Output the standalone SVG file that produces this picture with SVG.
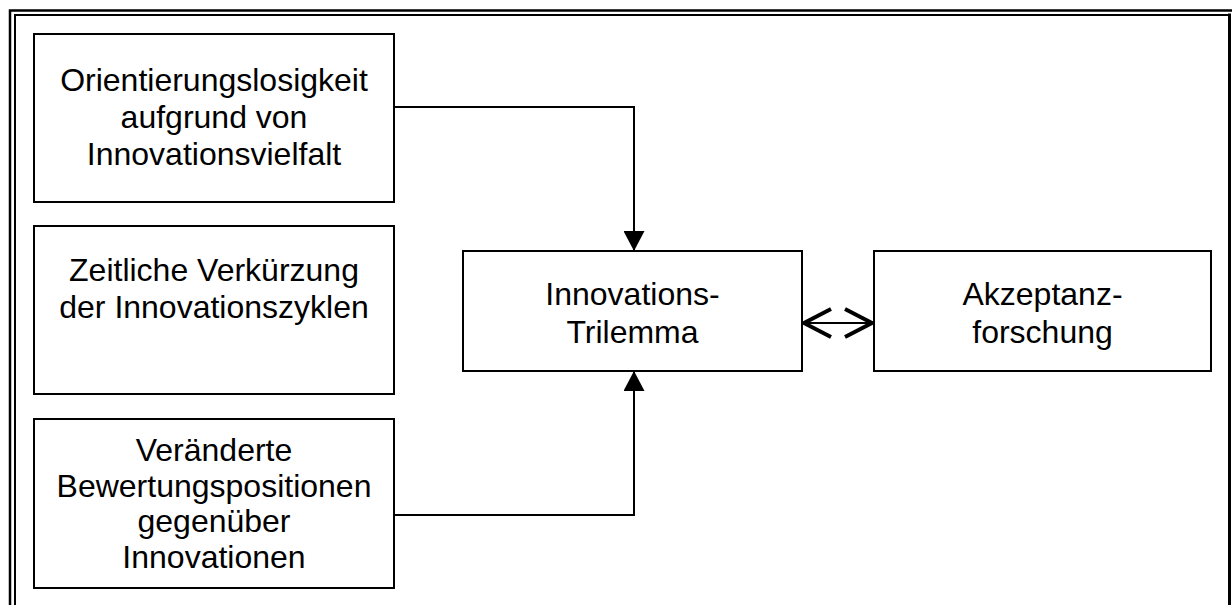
<svg xmlns="http://www.w3.org/2000/svg" width="1232" height="605" viewBox="0 0 1232 605">
  <defs>
    <style>
      .box { fill: #ffffff; stroke: #000000; stroke-width: 2; }
      .lbl { font-family: "Liberation Sans", Arial, sans-serif; font-size: 32px; fill: #000000; text-anchor: middle; }
      .wire { fill: none; stroke: #000000; stroke-width: 2; }
      .frame { fill: none; stroke: #000000; }
    </style>
    <marker id="solid" viewBox="0 0 20 21" refX="20" refY="10.5" markerWidth="20" markerHeight="21" markerUnits="userSpaceOnUse" orient="auto">
      <path d="M0,0 L20,10.5 L0,21 Z" fill="#000000"/>
    </marker>
    <marker id="open" viewBox="-4 -4 38 38" refX="30" refY="15" markerWidth="38" markerHeight="38" markerUnits="userSpaceOnUse" orient="auto-start-reverse">
      <path d="M2,1 L29,15 L2,29" fill="none" stroke="#000000" stroke-width="4" stroke-linejoin="round"/>
    </marker>
  </defs>

  <rect width="1232" height="605" fill="#ffffff"/>

  <!-- double frame, open at the bottom -->
  <g id="frame">
    <path class="frame" stroke-width="2.5" d="M10,605 V10.5 H1232"/>
    <path class="frame" stroke-width="2" d="M15,605 V15 H1229.5"/>
    <path class="frame" stroke-width="3" d="M1229.5,13.5 V605"/>
  </g>

  <g id="connectors">
    <path class="wire" d="M394,107 H634 V251" marker-end="url(#solid)"/>
    <path class="wire" d="M394,515 H634 V371" marker-end="url(#solid)"/>
    <path class="wire" stroke-width="3.5" d="M803,323 H873" marker-start="url(#open)" marker-end="url(#open)"/>
  </g>

  <g id="orientierung">
    <rect class="box" x="34" y="34" width="360" height="168"/>
    <text class="lbl" x="214" y="91">Orientierungslosigkeit</text>
    <text class="lbl" x="214" y="128">aufgrund von</text>
    <text class="lbl" x="214" y="165">Innovationsvielfalt</text>
  </g>

  <g id="verkuerzung">
    <rect class="box" x="34" y="226" width="360" height="168"/>
    <text class="lbl" x="214" y="281">Zeitliche Verkürzung</text>
    <text class="lbl" x="214" y="318">der Innovationszyklen</text>
  </g>

  <g id="bewertung">
    <rect class="box" x="34" y="419" width="360" height="169"/>
    <text class="lbl" x="214" y="461">Veränderte</text>
    <text class="lbl" x="214" y="497">Bewertungspositionen</text>
    <text class="lbl" x="214" y="532">gegenüber</text>
    <text class="lbl" x="214" y="568">Innovationen</text>
  </g>

  <g id="trilemma">
    <rect class="box" x="463" y="251" width="339" height="120"/>
    <text class="lbl" x="632.5" y="305">Innovations-</text>
    <text class="lbl" x="632.5" y="343">Trilemma</text>
  </g>

  <g id="akzeptanz">
    <rect class="box" x="874" y="251" width="337" height="120"/>
    <text class="lbl" x="1042.5" y="305">Akzeptanz-</text>
    <text class="lbl" x="1042.5" y="343">forschung</text>
  </g>
</svg>
